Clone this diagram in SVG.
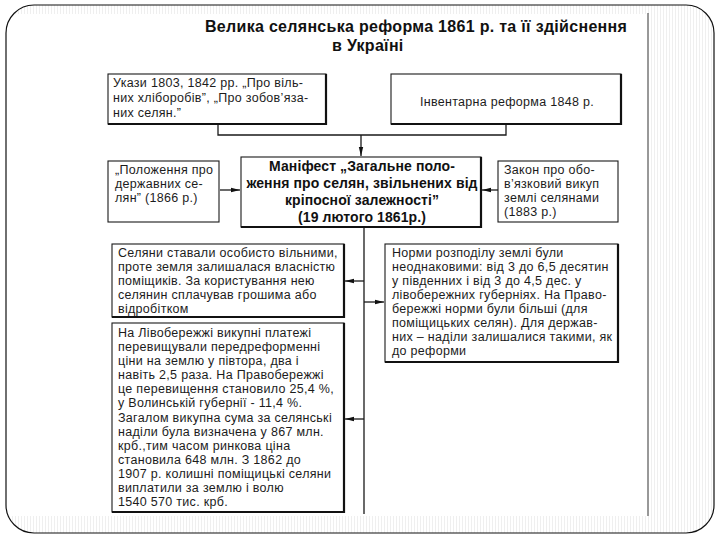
<svg xmlns="http://www.w3.org/2000/svg" width="720" height="540" viewBox="0 0 720 540">
<style>
.t{font-family:"Liberation Sans",Arial,sans-serif;font-size:12.5px;letter-spacing:0.3px;fill:#1c1c1c}
.b{font-family:"Liberation Sans",Arial,sans-serif;font-weight:bold;fill:#111}
.box{fill:#fff;stroke:#1a1a1a;stroke-width:1.1}
.sh{fill:none;stroke:#111;stroke-width:2.2}
.c{fill:none;stroke:#1a1a1a;stroke-width:1.3}
</style>
<defs>
<marker id="ar" viewBox="0 0 9 6" refX="9" refY="3" markerWidth="9" markerHeight="6" markerUnits="userSpaceOnUse" orient="auto">
<path d="M0,0.8 L9,3 L0,5.2 z" fill="#111"/>
</marker>
<pattern id="st" width="3" height="4" patternUnits="userSpaceOnUse">
<rect x="0" y="0" width="1" height="4" fill="#efefef"/>
</pattern>
<clipPath id="fr"><rect x="6" y="5" width="708" height="528" rx="28"/></clipPath>
</defs>
<rect width="720" height="540" fill="#fff"/>
<g id="frame">
<g clip-path="url(#fr)">
<rect x="6" y="5" width="708" height="9" fill="url(#st)"/>
<rect x="650" y="14" width="64" height="502" fill="url(#st)"/>
<rect x="6" y="516" width="708" height="17" fill="url(#st)"/>
</g>
<rect x="6" y="5" width="708" height="528" rx="28" fill="none" stroke="#111" stroke-width="1.2"/>
<line x1="648" y1="13" x2="648" y2="516" stroke="#333" stroke-width="1"/>
</g>
<g id="title">
<text class="b" x="205" y="32" font-size="16" letter-spacing="0.3">Велика селянська реформа 1861 р. та її здійснення</text>
<text class="b" x="332" y="51" font-size="16" letter-spacing="0.3">в Україні</text>
</g>
<g id="connectors">
<path class="c" d="M218,124 V135 H506 V124"/>
<line class="c" x1="361" y1="135" x2="361" y2="156" marker-end="url(#ar)"/>
<line class="c" x1="220" y1="190" x2="240" y2="190" marker-end="url(#ar)"/>
<line class="c" x1="498" y1="190" x2="482" y2="190" marker-end="url(#ar)"/>
<line class="c" x1="364" y1="228" x2="364" y2="514"/>
<line class="c" x1="364" y1="281" x2="345" y2="281" marker-end="url(#ar)"/>
<line class="c" x1="364" y1="302" x2="384" y2="302" marker-end="url(#ar)"/>
<line class="c" x1="364" y1="419" x2="345" y2="419" marker-end="url(#ar)"/>
</g>
<g id="ukazy">
<rect class="box" x="108" y="74" width="218" height="50"/>
<path class="sh" d="M108,124 H326 V74"/>
<text class="t" x="113" y="87">Укази 1803, 1842 рр. „Про віль-</text>
<text class="t" x="113" y="102">них хліборобів”, „Про зобов’яза-</text>
<text class="t" x="113" y="117">них селян.”</text>
</g>
<g id="inventory">
<rect class="box" x="391" y="74" width="230" height="50"/>
<path class="sh" d="M391,124 H621 V74"/>
<text class="t" x="507" y="106" text-anchor="middle">Інвентарна реформа 1848 р.</text>
</g>
<g id="polozhennia">
<rect class="box" x="108" y="161" width="111" height="61"/>
<text class="t" x="115" y="174">„Положення про</text>
<text class="t" x="115" y="188">державних се-</text>
<text class="t" x="115" y="202">лян” (1866 р.)</text>
</g>
<g id="manifest">
<rect class="box" x="241" y="157" width="240" height="70"/>
<path class="sh" d="M241,227 H481 V157"/>
<text class="b" x="362" y="171" font-size="14" letter-spacing="0.1" text-anchor="middle">Маніфест „Загальне поло-</text>
<text class="b" x="362" y="188" font-size="14" letter-spacing="0.1" text-anchor="middle">ження про селян, звільнених від</text>
<text class="b" x="362" y="205" font-size="14" letter-spacing="0.1" text-anchor="middle">кріпосної залежності”</text>
<text class="b" x="362" y="222" font-size="14" letter-spacing="0.1" text-anchor="middle">(19 лютого 1861р.)</text>
</g>
<g id="zakon">
<rect class="box" x="498" y="161" width="120" height="61"/>
<text class="t" x="504" y="174" font-size="12">Закон про обо-</text>
<text class="t" x="504" y="188" font-size="12">в’язковий викуп</text>
<text class="t" x="504" y="202" font-size="12">землі селянами</text>
<text class="t" x="504" y="216" font-size="12">(1883 р.)</text>
</g>
<g id="selyany">
<rect class="box" x="112" y="244" width="232" height="73"/>
<path class="sh" d="M112,317 H344 V244"/>
<text class="t" x="118" y="257">Селяни ставали особисто вільними,</text>
<text class="t" x="118" y="271">проте земля залишалася власністю</text>
<text class="t" x="118" y="285">поміщиків. За користування нею</text>
<text class="t" x="118" y="299">селянин сплачував грошима або</text>
<text class="t" x="118" y="313">відробітком</text>
</g>
<g id="normy">
<rect class="box" x="385" y="244" width="233" height="118"/>
<path class="sh" d="M385,362 H618 V244"/>
<text class="t" x="392" y="257">Норми розподілу землі були</text>
<text class="t" x="392" y="271">неоднаковими: від 3 до 6,5 десятин</text>
<text class="t" x="392" y="285">у південних і від 3 до 4,5 дес. у</text>
<text class="t" x="392" y="299">лівобережних губерніях. На Право-</text>
<text class="t" x="392" y="313">бережжі норми були більші (для</text>
<text class="t" x="392" y="327">поміщицьких селян). Для держав-</text>
<text class="t" x="392" y="341">них – наділи залишалися такими, як</text>
<text class="t" x="392" y="355">до реформи</text>
</g>
<g id="vykup">
<rect class="box" x="112" y="323" width="232" height="189"/>
<path class="sh" d="M112,512 H344 V323"/>
<text class="t" x="118" y="337">На Лівобережжі викупні платежі</text>
<text class="t" x="118" y="351">перевищували передреформенні</text>
<text class="t" x="118" y="365">ціни на  землю у півтора, два і</text>
<text class="t" x="118" y="379">навіть 2,5 раза. На Правобережжі</text>
<text class="t" x="118" y="393">це перевищення становило 25,4 %,</text>
<text class="t" x="118" y="407">у Волинській губернії - 11,4 %.</text>
<text class="t" x="118" y="422">Загалом викупна сума за селянські</text>
<text class="t" x="118" y="436">наділи була визначена у 867 млн.</text>
<text class="t" x="118" y="450">крб.,тим часом ринкова ціна</text>
<text class="t" x="118" y="464">становила 648 млн. З 1862 до</text>
<text class="t" x="118" y="478">1907 р. колишні поміщицькі селяни</text>
<text class="t" x="118" y="492">виплатили за землю і волю</text>
<text class="t" x="118" y="506">1540 570 тис. крб.</text>
</g>
</svg>
